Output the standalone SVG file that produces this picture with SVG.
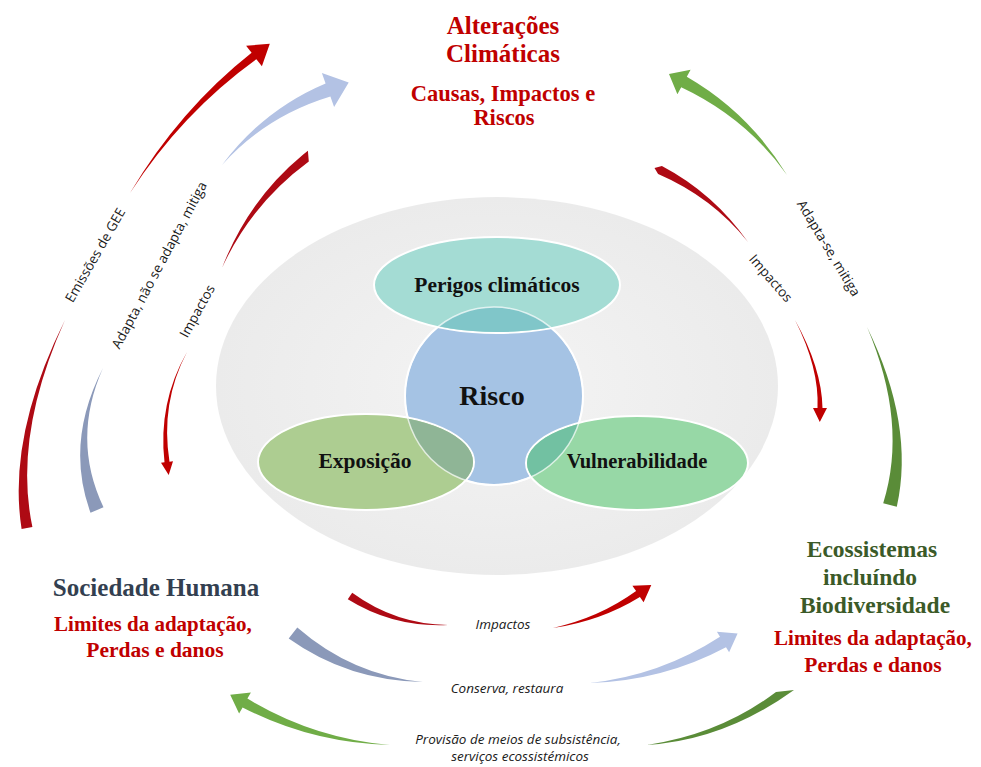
<svg xmlns="http://www.w3.org/2000/svg" width="981" height="767" viewBox="0 0 981 767">
<defs>
<style>
.sf{font-family:"Liberation Serif","Times New Roman",serif;font-weight:bold;text-anchor:middle}
.red{fill:#C00000}
.lbl{font-family:"Open Sans","Noto Sans",sans-serif;font-size:13.5px;fill:#1a1a1a;text-anchor:middle}
.it{font-style:italic;font-size:13.5px}
.node{stroke:#ffffff;stroke-width:2}
.rd{fill:#C00000}
.rd2{fill:#AE0A14}
.bl{fill:#B3C2E4}
.bl2{fill:#8B99B9}
.gr{fill:#70AD47}
.gr2{fill:#5A8C38}
</style>
<radialGradient id="bg" cx="0.5" cy="0.5" r="0.5">
<stop offset="0" stop-color="#F4F4F4"/>
<stop offset="1" stop-color="#EBEBEB"/>
</radialGradient>
<clipPath id="cRisk"><circle cx="494" cy="396" r="89"/></clipPath>
</defs>
<rect width="981" height="767" fill="#ffffff"/>

<g id="contexto">
<ellipse cx="497" cy="386" rx="281" ry="189" fill="url(#bg)"/>
</g>

<g id="risco">
<circle class="node" cx="494" cy="396" r="89" fill="#A5C3E4"/>
</g>

<g id="perigos">
<ellipse class="node" cx="497" cy="285" rx="123" ry="48" fill="#A4DCD4"/>
<ellipse cx="497" cy="285" rx="122" ry="47" fill="#80C6C9" clip-path="url(#cRisk)"/>
<text class="sf" x="497" y="292" font-size="21.5" fill="#111">Perigos climáticos</text>
</g>

<g id="exposicao">
<ellipse class="node" cx="366" cy="462" rx="108" ry="48" fill="#ADCD91"/>
<ellipse cx="366" cy="462" rx="107" ry="47" fill="#8FB596" clip-path="url(#cRisk)"/>
<text class="sf" x="365" y="468" font-size="21.5" fill="#111">Exposição</text>
</g>

<g id="vulnerabilidade">
<ellipse class="node" cx="637" cy="463" rx="111" ry="47" fill="#97D8A6"/>
<ellipse cx="637" cy="463" rx="110" ry="46" fill="#72C1A2" clip-path="url(#cRisk)"/>
<text class="sf" x="637" y="468" font-size="20.5" fill="#111">Vulnerabilidade</text>
</g>

<g id="risco-label">
<circle cx="494" cy="396" r="89" fill="none" stroke="#ffffff" stroke-width="1.5" stroke-opacity="0.7"/>
<text class="sf" x="492" y="405" font-size="28" fill="#111">Risco</text>
</g>

<g id="alteracoes">
<text class="sf red" x="503" y="34" font-size="25">Alterações</text>
<text class="sf red" x="503" y="62" font-size="25">Climáticas</text>
<text class="sf red" x="503" y="101" font-size="22.5">Causas, Impactos e</text>
<text class="sf red" x="504" y="125" font-size="22.5">Riscos</text>
</g>

<g id="sociedade">
<text class="sf" x="156" y="596" font-size="25" fill="#333F50">Sociedade Humana</text>
<text class="sf red" x="153" y="631" font-size="21">Limites da adaptação,</text>
<text class="sf red" x="155" y="657" font-size="21.5">Perdas e danos</text>
</g>

<g id="ecossistemas">
<text class="sf" x="872" y="557" font-size="23.5" fill="#3B5A28">Ecossistemas</text>
<text class="sf" x="870" y="585" font-size="23.5" fill="#3B5A28">incluíndo</text>
<text class="sf" x="875" y="613" font-size="23.5" fill="#3B5A28">Biodiversidade</text>
<text class="sf red" x="873" y="645" font-size="21">Limites da adaptação,</text>
<text class="sf red" x="873" y="672" font-size="21.5">Perdas e danos</text>
</g>

<g id="connectors">
<!-- Emissões de GEE (outer left, red) -->
<path class="rd" d="M130,193 Q179.8,109.4 251.6,52.8 L246.1,45.7 L269.8,43.8 L261.9,66.3 L256.4,59.2 Q182.2,112.6 130,193 Z"/>
<path class="rd2" d="M65,320 Q7,436.5 21.6,529 L32.4,527 Q13,435.5 65,320 Z"/>
<text class="lbl" transform="rotate(-60 95 255)" x="95" y="260">Emissões de GEE</text>
<!-- Adapta, não se adapta, mitiga (blue) -->
<path class="bl" d="M222,165 Q263.4,109.6 325.6,83.4 L321.9,73.1 L348.7,82.5 L334.1,106.9 L330.4,96.6 Q265.8,116.2 222,165 Z"/>
<path class="bl2" d="M103,368 Q64.8,442.4 90.5,512.7 L103.5,507.3 Q71.2,439.6 103,368 Z"/>
<text class="lbl" transform="rotate(-62 159 265)" x="159" y="270">Adapta, não se adapta, mitiga</text>
<!-- Impactos (inner left, red) -->
<path class="rd2" d="M222,268 Q248.1,200 303.2,154.5 L307.9,150.8 L308.8,161.5 Q251.1,204 222,268 Z"/>
<path class="rd" d="M187,352 Q157.8,403.2 164.5,462.3 L161,462.8 L168.7,474.9 L173,461.2 L169.5,461.7 Q160.2,402.8 187,352 Z"/>
<text class="lbl" transform="rotate(-61 197 311)" x="197" y="316">Impactos</text>
<!-- Adapta-se, mitiga (green, right) -->
<path class="gr" d="M787,175 Q746.3,117.9 681.2,87.3 L677.4,94.3 L669,74 L690.6,69.7 L686.8,76.7 Q749.1,112.7 787,175 Z"/>
<path class="gr2" d="M867,327 Q914.9,424.9 896.8,506.8 L883.2,503.2 Q908.1,423.1 867,327 Z"/>
<text class="lbl" transform="rotate(59 829 248)" x="829" y="253">Adapta-se, mitiga</text>
<!-- Impactos (inner right, red) -->
<path class="rd2" d="M748,242 Q711.9,197.2 658.1,174.1 L654.5,168 L661.9,165.9 Q713.7,193.2 748,242 Z"/>
<path class="rd" d="M795,320 Q821.7,368 822.5,408 L827,408.1 L819.8,422 L813,407.9 L817.5,408 Q819.3,368 795,320 Z"/>
<text class="lbl" transform="rotate(49 771 278)" x="771" y="283">Impactos</text>
<!-- Impactos (bottom, red) -->
<path class="rd2" d="M448,625 Q393.3,627.6 347.8,599.3 L352.2,592.7 Q395.5,624.2 448,625 Z"/>
<path class="rd" d="M553,628 Q599.3,617.7 636.1,591.1 L632.4,585.7 L651.3,585.1 L643.6,602.3 L639.9,596.9 Q601.3,620.7 553,628 Z"/>
<text class="lbl it" x="503" y="629">Impactos</text>
<!-- Conserva, restaura (bottom, blue) -->
<path class="bl2" d="M423,682 Q348,680.8 288.7,638.5 L297.3,627.5 Q352.4,675.4 423,682 Z"/>
<path class="bl" d="M590,683 Q660.6,675.3 720,636.8 L716.9,631.7 L737.6,633.4 L729.1,652.3 L726,647.2 Q663.6,680.5 590,683 Z"/>
<text class="lbl it" x="507" y="693">Conserva, restaura</text>
<!-- Provisão (bottom, green) -->
<path class="gr" d="M390,745 Q311.1,742.9 242.6,707.4 L239.1,713.5 L230.2,694.7 L250.9,692.5 L247.4,698.6 Q313.5,738.5 390,745 Z"/>
<path class="gr2" d="M647,745 Q720.3,734.1 776,692 L794,690 Q724.4,740.3 647,745 Z"/>
<text class="lbl it" x="518" y="744">Provisão de meios de subsistência,</text>
<text class="lbl it" x="520" y="761">serviços ecossistémicos</text>
</g>
</svg>
